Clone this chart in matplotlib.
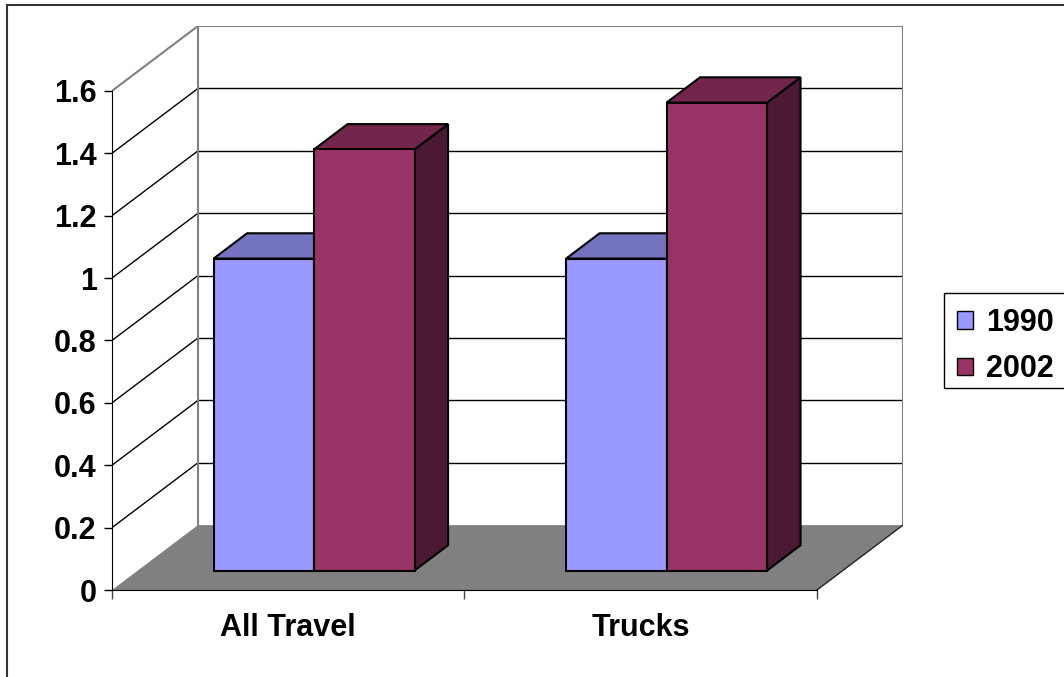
import matplotlib.pyplot as plt
from matplotlib.patches import Polygon, Patch, Rectangle

plt.rcParams['font.family'] = ['Liberation Sans', 'DejaVu Sans']
plt.rcParams['font.weight'] = 'bold'

# datos
categories = ['All Travel', 'Trucks']
series_names = ['1990', '2002']
values_1990 = [1.0, 1.0]
values_2002 = [1.35, 1.5]
y_ticks = [0, 0.2, 0.4, 0.6, 0.8, 1, 1.2, 1.4, 1.6]

front_colors = ['#9999FF', '#993366']
top_colors = ['#7373BF', '#73264C']
side_colors = ['#4C4C80', '#4C1933']

# profundidad oblicua (en unidades de datos)
DX = 0.244
DY = 0.208
YMAX = 1.6


def proj(x, y, d):
    return (x + d * DX, y + d * DY)


fig = plt.figure(figsize=(10.64, 6.77), dpi=100)
ax = fig.add_axes([112 / 1064, 87 / 677, 791 / 1064, 564 / 677])
ax.set_xlim(0, 2 + DX)
ax.set_ylim(0, YMAX + DY)
ax.patch.set_visible(False)

# pared lateral y trasera
wall_gray = '#808080'
for v in y_ticks[1:-1]:
    ax.plot(*zip(proj(0, v, 0), proj(0, v, 1)), color='black', lw=1, zorder=1)
    ax.plot(*zip(proj(0, v, 1), proj(2, v, 1)), color='black', lw=1, zorder=1)
ax.plot(*zip(proj(0, YMAX, 0), proj(0, YMAX, 1), proj(2, YMAX, 1), proj(2, 0, 1)),
        color=wall_gray, lw=1.5, zorder=1)
ax.plot(*zip(proj(0, YMAX, 1), proj(0, 0, 1)), color=wall_gray, lw=1.5, zorder=1)

# piso
floor = Polygon([proj(0, 0, 0), proj(2, 0, 0), proj(2, 0, 1), proj(0, 0, 1)],
                closed=True, facecolor=wall_gray, edgecolor='none', zorder=2)
ax.add_patch(floor)
ax.plot(*zip(proj(2, 0, 0), proj(2, 0, 1)), color='#222222', lw=1, zorder=2)

# barras 3D
W = 0.285
D0, D1 = 0.30, 0.69
z = 3
for i in range(len(categories)):
    for j, vals in enumerate([values_1990, values_2002]):
        h = vals[i]
        l = i + 0.5 - W + j * W
        r = l + W
        side = [proj(r, 0, D0), proj(r, 0, D1), proj(r, h, D1), proj(r, h, D0)]
        top = [proj(l, h, D0), proj(r, h, D0), proj(r, h, D1), proj(l, h, D1)]
        front = [proj(l, 0, D0), proj(r, 0, D0), proj(r, h, D0), proj(l, h, D0)]
        for pts, col in [(side, side_colors[j]), (top, top_colors[j]), (front, front_colors[j])]:
            ax.add_patch(Polygon(pts, closed=True, facecolor=col, edgecolor='black',
                                 lw=1.5, joinstyle='miter', zorder=z))
        z += 1

# ejes
for s in ['top', 'right']:
    ax.spines[s].set_visible(False)
ax.spines['left'].set_bounds(0, YMAX)
ax.spines['bottom'].set_bounds(0, 2)
ax.spines['left'].set_zorder(20)
ax.spines['bottom'].set_zorder(20)
ax.set_yticks(y_ticks)
ax.set_yticklabels(['%g' % v for v in y_ticks], fontsize=22, fontweight='bold')
ax.set_xticks([0, 1, 2])
ax.set_xticklabels([])
ax.tick_params(axis='y', length=6, width=1, pad=5)
ax.tick_params(axis='x', length=6.5, width=1, color='#444444')

for i, cat in enumerate(categories):
    ax.text(i + 0.5, -0.122, cat, ha='center', va='center', fontsize=22, fontweight='bold')

# leyenda (marco dibujado aparte, se sale por la derecha)
fig.add_artist(Rectangle((944 / 1064, (677 - 388) / 677), 0.2, 95 / 677,
                         transform=fig.transFigure, facecolor='white',
                         edgecolor='black', lw=1, zorder=5))
handles = [Patch(facecolor=front_colors[k], edgecolor='black', lw=1) for k in range(2)]
leg = fig.legend(handles, series_names, loc='center left',
                 bbox_to_anchor=(957 / 1064, (677 - 346) / 677),
                 bbox_transform=fig.transFigure, fontsize=22, frameon=False,
                 handlelength=0.52, handleheight=0.52, handletextpad=0.42, borderpad=0,
                 labelspacing=0.55, borderaxespad=0)
leg.set_zorder(6)
for t in leg.get_texts():
    t.set_fontweight('bold')

# borde exterior
fig.add_artist(Rectangle((7 / 1064, -0.05), 1.2, 1 - 5 / 677 + 0.05, transform=fig.transFigure,
                         fill=False, edgecolor='#333333', lw=1.5))

fig.savefig('out.png', dpi=100)
